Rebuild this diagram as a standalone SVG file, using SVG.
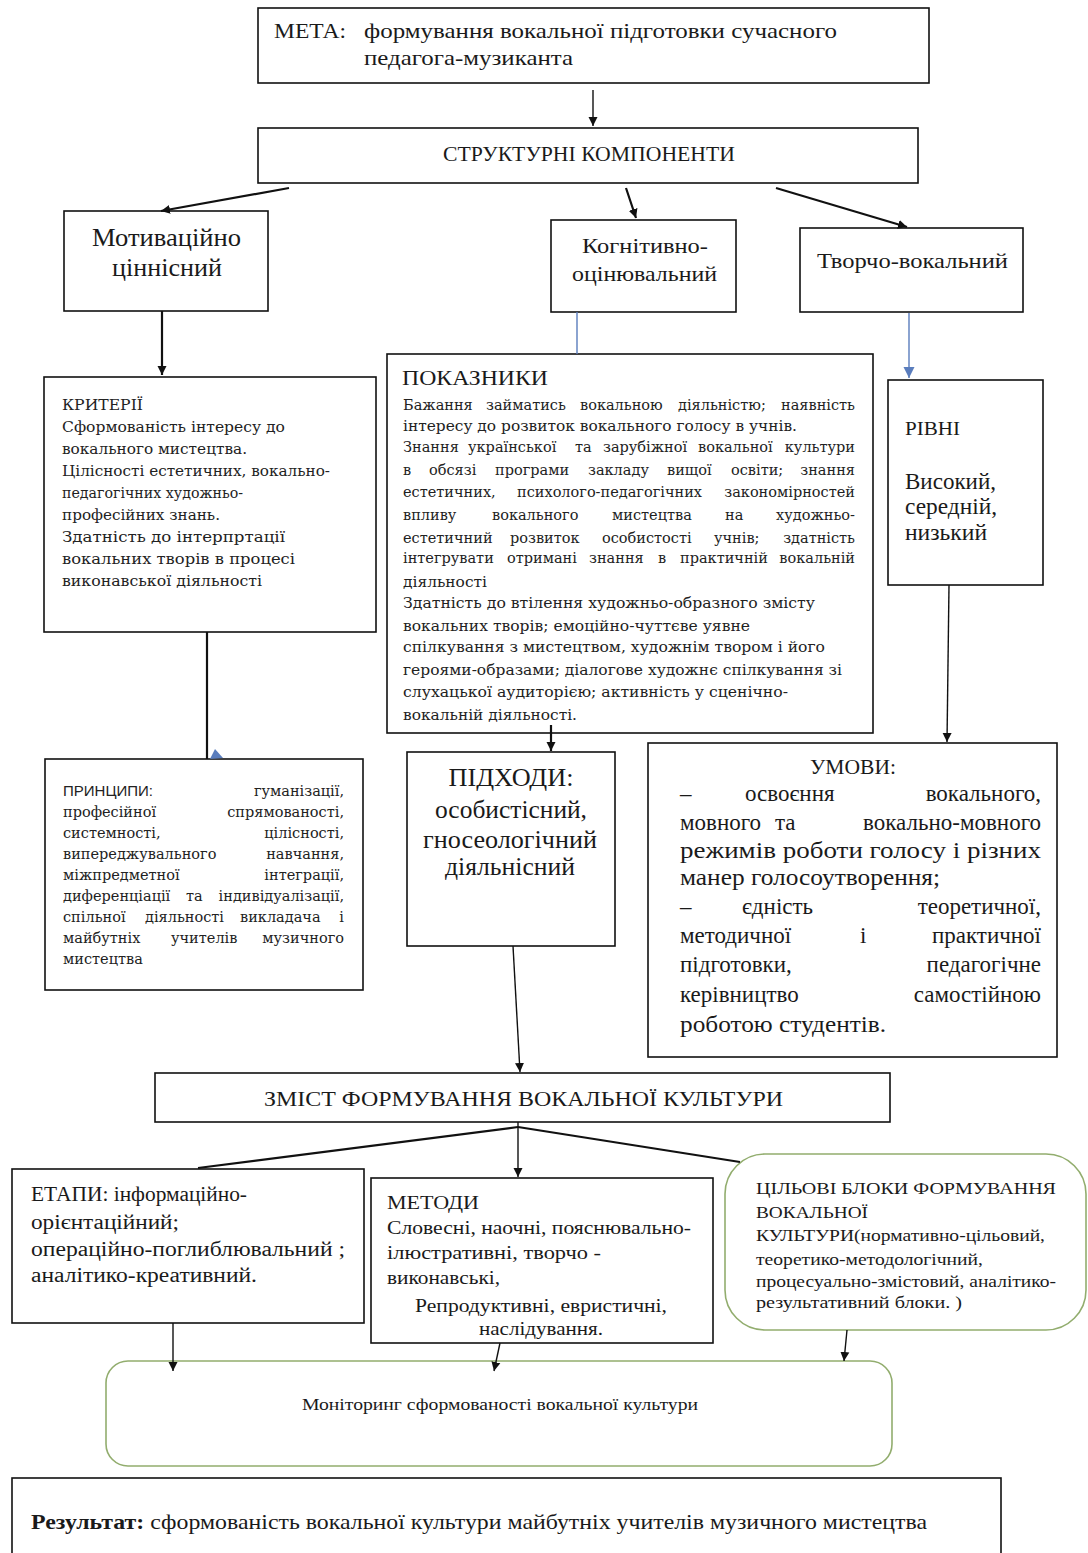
<svg xmlns="http://www.w3.org/2000/svg" width="1088" height="1553" viewBox="0 0 1088 1553">
<style>
.box{fill:#fff;stroke:#111;stroke-width:1.6}
.gbox{fill:#fff;stroke:#92ad6e;stroke-width:1.6}
.ts{font-family:"Liberation Serif",serif;fill:#1a1a1a}
.dv{font-family:"DejaVu Serif",serif;fill:#222}
.sn{font-family:"Liberation Sans",sans-serif;fill:#222}
.c{stroke:#111;stroke-width:1.4;fill:none}
.ck{stroke:#111;stroke-width:2.2;fill:none}
.cb{stroke:#5a7dbd;stroke-width:1.4;fill:none}
</style>
<defs>
<marker id="ah" markerUnits="userSpaceOnUse" markerWidth="10" markerHeight="10" refX="9" refY="5" orient="auto"><path d="M0,0.5 L9,5 L0,9.5 z" fill="#111"/></marker>
<marker id="ahb" markerUnits="userSpaceOnUse" markerWidth="12" markerHeight="12" refX="11" refY="6" orient="auto"><path d="M0,0.5 L11,6 L0,11.5 z" fill="#5a7dbd"/></marker>
</defs>

<g id="meta">
<rect class="box" x="258" y="8" width="671" height="75"/>
<text class="ts" x="274" y="38" font-size="21" textLength="72" lengthAdjust="spacingAndGlyphs">МЕТА:</text>
<text class="ts" x="364" y="38" font-size="22" textLength="473" lengthAdjust="spacingAndGlyphs">формування вокальної підготовки сучасного</text>
<text class="ts" x="364" y="65" font-size="22" textLength="209" lengthAdjust="spacingAndGlyphs">педагога-музиканта</text>
</g>

<g id="struct">
<rect class="box" x="258" y="128" width="660" height="55"/>
<text class="ts" x="443" y="161" font-size="21" textLength="292" lengthAdjust="spacingAndGlyphs">СТРУКТУРНІ КОМПОНЕНТИ</text>
</g>

<g id="motiv">
<rect class="box" x="64" y="211" width="204" height="100"/>
<text class="ts" x="92" y="246" font-size="25" textLength="149" lengthAdjust="spacingAndGlyphs">Мотиваційно</text>
<text class="ts" x="112" y="276" font-size="25" textLength="110" lengthAdjust="spacingAndGlyphs">ціннісний</text>
</g>

<g id="kognit">
<rect class="box" x="551" y="220" width="185" height="92"/>
<text class="ts" x="582" y="253" font-size="22" textLength="126" lengthAdjust="spacingAndGlyphs">Когнітивно-</text>
<text class="ts" x="572" y="281" font-size="22" textLength="145" lengthAdjust="spacingAndGlyphs">оцінювальний</text>
</g>

<g id="tvorcho">
<rect class="box" x="800" y="228" width="223" height="84"/>
<text class="ts" x="817" y="268" font-size="22" textLength="191" lengthAdjust="spacingAndGlyphs">Творчо-вокальний</text>
</g>

<g id="kryterii">
<rect class="box" x="44" y="377" width="332" height="255"/>
<g class="dv" font-size="14.5">
<text x="62" y="410" textLength="81" lengthAdjust="spacingAndGlyphs">КРИТЕРІЇ</text>
<text x="62" y="432" textLength="223" lengthAdjust="spacingAndGlyphs">Сформованість інтересу до</text>
<text x="62" y="454" textLength="185" lengthAdjust="spacingAndGlyphs">вокального мистецтва.</text>
<text x="62" y="476" textLength="268" lengthAdjust="spacingAndGlyphs">Цілісності естетичних, вокально-</text>
<text x="62" y="498" textLength="181" lengthAdjust="spacingAndGlyphs">педагогічних художньо-</text>
<text x="62" y="520" textLength="158" lengthAdjust="spacingAndGlyphs">професійних знань.</text>
<text x="62" y="542" textLength="223" lengthAdjust="spacingAndGlyphs">Здатність до інтерпртації</text>
<text x="62" y="564" textLength="233" lengthAdjust="spacingAndGlyphs">вокальних творів в процесі</text>
<text x="62" y="586" textLength="200" lengthAdjust="spacingAndGlyphs">виконавської діяльності</text>
</g>
</g>

<g id="pokaznyky">
<rect class="box" x="387" y="354" width="486" height="379"/>
<text class="ts" x="402" y="385" font-size="22" textLength="146" lengthAdjust="spacingAndGlyphs">ПОКАЗНИКИ</text>
<g class="dv" font-size="14.5">
<text y="410"><tspan x="403">Бажання</tspan> <tspan x="486">займатись</tspan> <tspan x="580">вокальною</tspan> <tspan x="678">діяльністю;</tspan> <tspan x="855" text-anchor="end">наявність</tspan></text>
<text x="403" y="431" textLength="394" lengthAdjust="spacingAndGlyphs">інтересу до розвиток вокального голосу в учнів.</text>
<text y="452"><tspan x="403">Знання</tspan> <tspan x="468">української</tspan> <tspan x="575">та</tspan> <tspan x="603">зарубіжної</tspan> <tspan x="698">вокальної</tspan> <tspan x="855" text-anchor="end">культури</tspan></text>
<text y="475"><tspan x="403">в</tspan> <tspan x="429">обсязі</tspan> <tspan x="495">програми</tspan> <tspan x="588">закладу</tspan> <tspan x="667">вищої</tspan> <tspan x="731">освіти;</tspan> <tspan x="855" text-anchor="end">знання</tspan></text>
<text y="497"><tspan x="403">естетичних,</tspan> <tspan x="517">психолого-педагогічних</tspan> <tspan x="855" text-anchor="end">закономірностей</tspan></text>
<text y="520"><tspan x="403">впливу</tspan> <tspan x="492">вокального</tspan> <tspan x="612">мистецтва</tspan> <tspan x="725">на</tspan> <tspan x="855" text-anchor="end">художньо-</tspan></text>
<text y="543"><tspan x="403">естетичний</tspan> <tspan x="510">розвиток</tspan> <tspan x="602">особистості</tspan> <tspan x="714">учнів;</tspan> <tspan x="855" text-anchor="end">здатність</tspan></text>
<text y="563"><tspan x="403">інтегрувати</tspan> <tspan x="507">отримані</tspan> <tspan x="589">знання</tspan> <tspan x="658">в</tspan> <tspan x="680">практичній</tspan> <tspan x="855" text-anchor="end">вокальній</tspan></text>
<text x="403" y="587" textLength="84" lengthAdjust="spacingAndGlyphs">діяльності</text>
<text x="403" y="608" textLength="412" lengthAdjust="spacingAndGlyphs">Здатність до втілення художньо-образного змісту</text>
<text x="403" y="631" textLength="347" lengthAdjust="spacingAndGlyphs">вокальних творів; емоційно-чуттєве уявне</text>
<text x="403" y="652" textLength="422" lengthAdjust="spacingAndGlyphs">спілкування з мистецтвом, художнім твором і його</text>
<text x="403" y="675" textLength="439" lengthAdjust="spacingAndGlyphs">героями-образами; діалогове художнє спілкування зі</text>
<text x="403" y="697" textLength="385" lengthAdjust="spacingAndGlyphs">слухацької аудиторією; активність у сценічно-</text>
<text x="403" y="720" textLength="174" lengthAdjust="spacingAndGlyphs">вокальній діяльності.</text>
</g>
</g>

<g id="rivni">
<rect class="box" x="888" y="380" width="155" height="205"/>
<text class="ts" x="905" y="435" font-size="19" textLength="55" lengthAdjust="spacingAndGlyphs">РІВНІ</text>
<text class="ts" x="905" y="489" font-size="23" textLength="91" lengthAdjust="spacingAndGlyphs">Високий,</text>
<text class="ts" x="905" y="514" font-size="23" textLength="92" lengthAdjust="spacingAndGlyphs">середній,</text>
<text class="ts" x="905" y="540" font-size="23" textLength="82" lengthAdjust="spacingAndGlyphs">низький</text>
</g>

<g id="pryntsypy">
<rect class="box" x="45" y="759" width="318" height="231"/>
<g class="dv" font-size="14.5">
<text y="796"><tspan class="sn" x="63" font-size="15">ПРИНЦИПИ:</tspan> <tspan x="344" text-anchor="end">гуманізації,</tspan></text>
<text y="817"><tspan x="63">професійної</tspan> <tspan x="344" text-anchor="end">спрямованості,</tspan></text>
<text y="838"><tspan x="63">системності,</tspan> <tspan x="344" text-anchor="end">цілісності,</tspan></text>
<text y="859"><tspan x="63">випереджувального</tspan> <tspan x="344" text-anchor="end">навчання,</tspan></text>
<text y="880"><tspan x="63">міжпредметної</tspan> <tspan x="344" text-anchor="end">інтеграції,</tspan></text>
<text y="901"><tspan x="63">диференціації</tspan> <tspan x="186">та</tspan> <tspan x="344" text-anchor="end">індивідуалізації,</tspan></text>
<text y="922"><tspan x="63">спільної</tspan> <tspan x="145">діяльності</tspan> <tspan x="240">викладача</tspan> <tspan x="344" text-anchor="end">і</tspan></text>
<text y="943"><tspan x="63">майбутніх</tspan> <tspan x="171">учителів</tspan> <tspan x="344" text-anchor="end">музичного</tspan></text>
<text x="63" y="964">мистецтва</text>
</g>
</g>

<g id="pidkhody">
<rect class="box" x="407" y="752" width="208" height="194"/>
<g class="ts" font-size="25" text-anchor="middle">
<text x="511" y="786" textLength="125" lengthAdjust="spacingAndGlyphs">ПІДХОДИ:</text>
<text x="511" y="818" textLength="152" lengthAdjust="spacingAndGlyphs">особистісний,</text>
<text x="510" y="848" textLength="174" lengthAdjust="spacingAndGlyphs">гносеологічний</text>
<text x="510" y="875" textLength="130" lengthAdjust="spacingAndGlyphs">діяльнісний</text>
</g>
</g>

<g id="umovy">
<rect class="box" x="648" y="743" width="409" height="314"/>
<g class="ts" font-size="23">
<text x="810" y="774" font-size="20" textLength="86" lengthAdjust="spacingAndGlyphs">УМОВИ:</text>
<text y="801"><tspan x="680">–</tspan> <tspan x="745">освоєння</tspan> <tspan x="1041" text-anchor="end">вокального,</tspan></text>
<text y="830"><tspan x="680">мовного</tspan> <tspan x="775">та</tspan> <tspan x="1041" text-anchor="end">вокально-мовного</tspan></text>
<text x="680" y="858" textLength="361" lengthAdjust="spacingAndGlyphs">режимів роботи голосу і різних</text>
<text x="680" y="885" textLength="260" lengthAdjust="spacingAndGlyphs">манер голосоутворення;</text>
<text y="914"><tspan x="680">–</tspan> <tspan x="742">єдність</tspan> <tspan x="1041" text-anchor="end">теоретичної,</tspan></text>
<text y="943"><tspan x="680">методичної</tspan> <tspan x="860">і</tspan> <tspan x="1041" text-anchor="end">практичної</tspan></text>
<text y="972"><tspan x="680">підготовки,</tspan> <tspan x="1041" text-anchor="end">педагогічне</tspan></text>
<text y="1002"><tspan x="680">керівництво</tspan> <tspan x="1041" text-anchor="end">самостійною</tspan></text>
<text x="680" y="1032" textLength="206" lengthAdjust="spacingAndGlyphs">роботою студентів.</text>
</g>
</g>

<g id="zmist">
<rect class="box" x="155" y="1073" width="735" height="49"/>
<text class="ts" x="264" y="1106" font-size="22" textLength="519" lengthAdjust="spacingAndGlyphs">ЗМІСТ ФОРМУВАННЯ ВОКАЛЬНОЇ КУЛЬТУРИ</text>
</g>

<g id="etapy">
<rect class="box" x="12" y="1169" width="352" height="154"/>
<g class="ts" font-size="20">
<text x="31" y="1201" textLength="216" lengthAdjust="spacingAndGlyphs">ЕТАПИ: інформаційно-</text>
<text x="31" y="1229" textLength="148" lengthAdjust="spacingAndGlyphs">орієнтаційний;</text>
<text x="31" y="1256" textLength="314" lengthAdjust="spacingAndGlyphs">операційно-поглиблювальний ;</text>
<text x="31" y="1282" textLength="226" lengthAdjust="spacingAndGlyphs">аналітико-креативний.</text>
</g>
</g>

<g id="metody">
<rect class="box" x="371" y="1178" width="342" height="165"/>
<g class="ts" font-size="19">
<text x="387" y="1209" textLength="92" lengthAdjust="spacingAndGlyphs">МЕТОДИ</text>
<text x="387" y="1234" textLength="304" lengthAdjust="spacingAndGlyphs">Словесні, наочні, пояснювально-</text>
<text x="387" y="1259" textLength="214" lengthAdjust="spacingAndGlyphs">ілюстративні, творчо -</text>
<text x="387" y="1284" textLength="113" lengthAdjust="spacingAndGlyphs">виконавські,</text>
<text x="415" y="1312" textLength="252" lengthAdjust="spacingAndGlyphs">Репродуктивні, евристичні,</text>
<text x="479" y="1335" textLength="124" lengthAdjust="spacingAndGlyphs">наслідування.</text>
</g>
</g>

<g id="tsilovi">
<rect class="gbox" x="725" y="1154" width="361" height="176" rx="40" ry="40"/>
<g class="ts" font-size="17">
<text x="756" y="1194" textLength="300" lengthAdjust="spacingAndGlyphs">ЦІЛЬОВІ БЛОКИ ФОРМУВАННЯ</text>
<text x="756" y="1218" textLength="112" lengthAdjust="spacingAndGlyphs">ВОКАЛЬНОЇ</text>
<text x="756" y="1241" textLength="289" lengthAdjust="spacingAndGlyphs">КУЛЬТУРИ(нормативно-цільовий,</text>
<text x="756" y="1265" textLength="227" lengthAdjust="spacingAndGlyphs">теоретико-методологічний,</text>
<text x="756" y="1287" textLength="300" lengthAdjust="spacingAndGlyphs">процесуально-змістовий, аналітико-</text>
<text x="756" y="1308" textLength="206" lengthAdjust="spacingAndGlyphs">результативний блоки. )</text>
</g>
</g>

<g id="monitoring">
<rect class="gbox" x="106" y="1361" width="786" height="105" rx="22" ry="22"/>
<text class="ts" x="302" y="1410" font-size="16" textLength="396" lengthAdjust="spacingAndGlyphs">Моніторинг сформованості вокальної культури</text>
</g>

<g id="rezultat">
<rect class="box" x="12" y="1478" width="989" height="100"/>
<text class="ts" x="31" y="1529" font-size="21" textLength="896" lengthAdjust="spacingAndGlyphs"><tspan font-weight="bold">Результат:</tspan> сформованість вокальної культури майбутніх учителів музичного мистецтва</text>
</g>

<g id="connectors">
<line class="c" x1="593" y1="90" x2="593" y2="126" marker-end="url(#ah)"/>
<line class="ck" x1="289" y1="188" x2="161" y2="211" marker-end="url(#ah)"/>
<line class="ck" x1="626" y1="188" x2="636" y2="218" marker-end="url(#ah)"/>
<line class="ck" x1="776" y1="188" x2="907" y2="227" marker-end="url(#ah)"/>
<line class="ck" x1="162" y1="311" x2="162" y2="375" marker-end="url(#ah)"/>
<line class="cb" x1="577" y1="312" x2="577" y2="354"/>
<line class="cb" x1="909" y1="313" x2="909" y2="378" marker-end="url(#ahb)"/>
<line class="ck" x1="207" y1="632" x2="207" y2="759"/>
<polygon points="210,759 215,749 223,758" fill="#5a7dbd"/>
<line class="ck" x1="551" y1="725" x2="551" y2="751" marker-end="url(#ah)"/>
<line class="c" x1="949" y1="585" x2="947" y2="742" marker-end="url(#ah)"/>
<line class="c" x1="513" y1="946" x2="520" y2="1072" marker-end="url(#ah)"/>
<line class="ck" x1="518" y1="1127" x2="198" y2="1168"/>
<line class="ck" x1="518" y1="1127" x2="740" y2="1162"/>
<line class="c" x1="518" y1="1122" x2="518" y2="1177" marker-end="url(#ah)"/>
<line class="c" x1="173" y1="1323" x2="173" y2="1371" marker-end="url(#ah)"/>
<line class="c" x1="500" y1="1343" x2="494" y2="1371" marker-end="url(#ah)"/>
<line class="c" x1="847" y1="1330" x2="844" y2="1361" marker-end="url(#ah)"/>
</g>
</svg>
